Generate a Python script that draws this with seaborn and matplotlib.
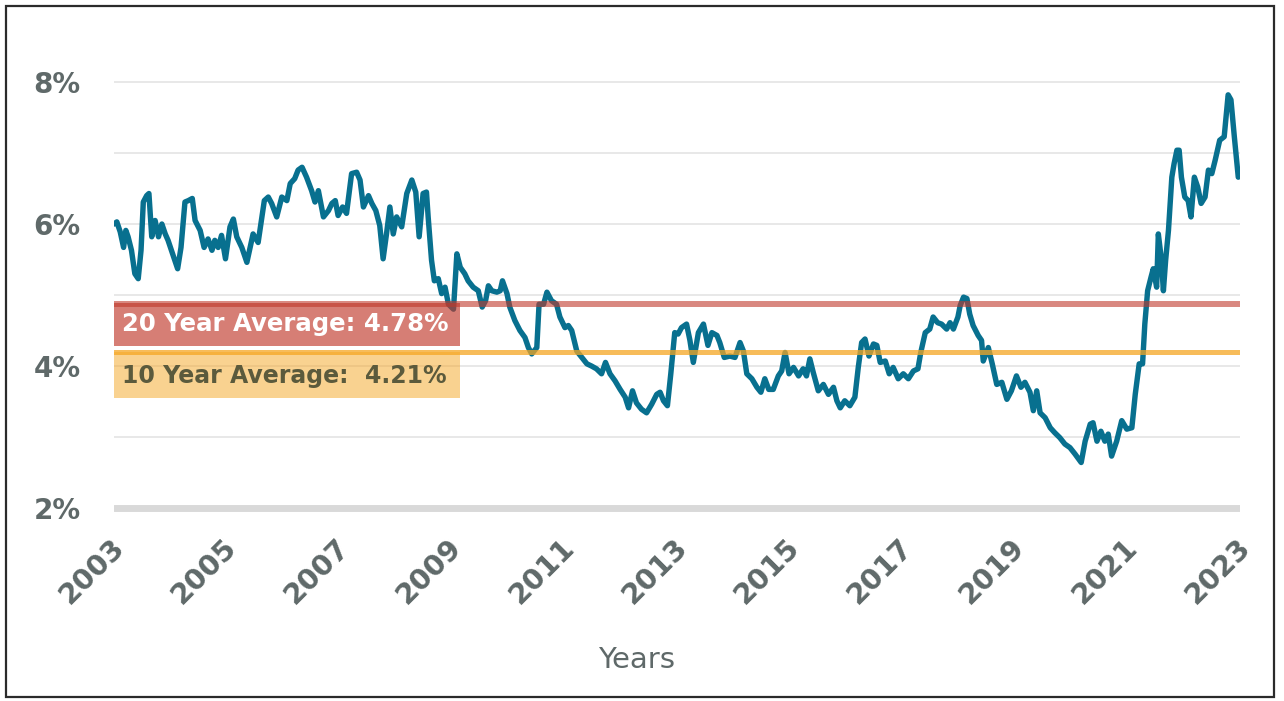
import numpy as np
import pandas as pd
import matplotlib
matplotlib.use("Agg")
import matplotlib.pyplot as plt
import matplotlib.patches as patches
from matplotlib.transforms import ScaledTranslation
import seaborn as sns

# 30 year fixed mortgage rate
years = [
    2003.00, 2003.05, 2003.11, 2003.17, 2003.21, 2003.25, 2003.31, 2003.37, 2003.43, 2003.48,
    2003.52, 2003.58, 2003.62, 2003.67, 2003.73, 2003.79, 2003.85, 2003.91, 2003.96, 2004.02,
    2004.08, 2004.13, 2004.19, 2004.26, 2004.32, 2004.39, 2004.44, 2004.53, 2004.60, 2004.67,
    2004.74, 2004.79, 2004.85, 2004.91, 2004.98, 2005.06, 2005.12, 2005.18, 2005.27, 2005.36,
    2005.47, 2005.56, 2005.67, 2005.74, 2005.80, 2005.89, 2005.98, 2006.07, 2006.13, 2006.21,
    2006.27, 2006.34, 2006.42, 2006.51, 2006.57, 2006.63, 2006.72, 2006.81, 2006.87, 2006.93,
    2006.98, 2007.06, 2007.13, 2007.22, 2007.31, 2007.37, 2007.43, 2007.52, 2007.58, 2007.65,
    2007.72, 2007.78, 2007.84, 2007.90, 2007.96, 2008.02, 2008.11, 2008.20, 2008.29, 2008.36,
    2008.42, 2008.49, 2008.55, 2008.58, 2008.64, 2008.69, 2008.76, 2008.82, 2008.88, 2008.94,
    2009.03, 2009.09, 2009.15, 2009.23, 2009.29, 2009.38, 2009.47, 2009.54, 2009.60, 2009.65,
    2009.71, 2009.80, 2009.86, 2009.90, 2009.98, 2010.03, 2010.12, 2010.21, 2010.30, 2010.36,
    2010.42, 2010.51, 2010.55, 2010.63, 2010.69, 2010.77, 2010.86, 2010.92, 2011.01, 2011.07,
    2011.13, 2011.22, 2011.31, 2011.40, 2011.48, 2011.57, 2011.66, 2011.73, 2011.81, 2011.90,
    2011.99, 2012.08, 2012.14, 2012.21, 2012.28, 2012.37, 2012.46, 2012.55, 2012.64, 2012.70,
    2012.76, 2012.83, 2012.89, 2012.96, 2013.02, 2013.08, 2013.17, 2013.23, 2013.29, 2013.38,
    2013.47, 2013.55, 2013.62, 2013.71, 2013.76, 2013.84, 2013.94, 2014.03, 2014.12, 2014.18,
    2014.24, 2014.33, 2014.42, 2014.49, 2014.56, 2014.63, 2014.71, 2014.80, 2014.86, 2014.92,
    2014.99, 2015.07, 2015.16, 2015.24, 2015.30, 2015.36, 2015.42, 2015.51, 2015.60, 2015.69,
    2015.78, 2015.84, 2015.90, 2015.98, 2016.07, 2016.16, 2016.22, 2016.28, 2016.34, 2016.41,
    2016.49, 2016.55, 2016.61, 2016.70, 2016.77, 2016.84, 2016.93, 2017.02, 2017.11, 2017.20,
    2017.28, 2017.33, 2017.41, 2017.49, 2017.55, 2017.63, 2017.70, 2017.79, 2017.85, 2017.91,
    2017.99, 2018.03, 2018.09, 2018.15, 2018.20, 2018.26, 2018.35, 2018.41, 2018.44, 2018.53,
    2018.60, 2018.68, 2018.77, 2018.86, 2018.94, 2019.03, 2019.11, 2019.18, 2019.27, 2019.33,
    2019.39, 2019.45, 2019.54, 2019.63, 2019.71, 2019.80, 2019.89, 2019.98, 2020.07, 2020.18,
    2020.25, 2020.34, 2020.39, 2020.46, 2020.53, 2020.60, 2020.66, 2020.72, 2020.81, 2020.90,
    2020.99, 2021.08, 2021.14, 2021.21, 2021.27, 2021.31, 2021.36, 2021.42, 2021.46, 2021.52,
    2021.55, 2021.60, 2021.64, 2021.68, 2021.73, 2021.79, 2021.83, 2021.88, 2021.92, 2021.96,
    2022.02, 2022.08, 2022.13, 2022.19, 2022.25, 2022.31, 2022.38, 2022.44, 2022.50, 2022.56,
    2022.64, 2022.72, 2022.79, 2022.84, 2022.90, 2022.97,
]
rates = [
    6.00, 6.03, 5.89, 5.67, 5.91, 5.82, 5.63, 5.30, 5.23, 5.63,
    6.31, 6.40, 6.43, 5.82, 6.05, 5.82, 6.00, 5.86, 5.77, 5.63,
    5.49, 5.37, 5.67, 6.31, 6.33, 6.36, 6.05, 5.91, 5.67, 5.79,
    5.63, 5.77, 5.67, 5.84, 5.51, 5.96, 6.07, 5.82, 5.67, 5.46,
    5.86, 5.74, 6.33, 6.38, 6.29, 6.10, 6.38, 6.33, 6.57, 6.64,
    6.76, 6.80, 6.66, 6.47, 6.31, 6.47, 6.10, 6.19, 6.29, 6.33,
    6.12, 6.24, 6.15, 6.71, 6.73, 6.62, 6.24, 6.40, 6.29, 6.19,
    5.98, 5.51, 5.86, 6.24, 5.86, 6.10, 5.96, 6.43, 6.62, 6.45,
    5.82, 6.43, 6.45, 6.10, 5.49, 5.20, 5.23, 5.02, 5.11, 4.87,
    4.80, 5.58, 5.39, 5.30, 5.20, 5.11, 5.06, 4.83, 4.92, 5.13,
    5.06, 5.04, 5.06, 5.20, 5.02, 4.83, 4.64, 4.50, 4.40, 4.26,
    4.17, 4.26, 4.87, 4.87, 5.04, 4.92, 4.87, 4.69, 4.54, 4.57,
    4.50, 4.21, 4.12, 4.03, 4.00, 3.96, 3.89, 4.05, 3.89, 3.79,
    3.67, 3.56, 3.41, 3.65, 3.48, 3.39, 3.34, 3.46, 3.60, 3.63,
    3.51, 3.44, 3.89, 4.47, 4.45, 4.54, 4.59, 4.36, 4.05, 4.47,
    4.59, 4.29, 4.47, 4.43, 4.33, 4.12, 4.14, 4.12, 4.33, 4.21,
    3.89, 3.82, 3.70, 3.63, 3.82, 3.67, 3.67, 3.86, 3.93, 4.19,
    3.89, 3.98, 3.86, 3.96, 3.86, 4.10, 3.91, 3.65, 3.74, 3.60,
    3.70, 3.51, 3.41, 3.51, 3.44, 3.56, 3.98, 4.33, 4.38, 4.14,
    4.31, 4.29, 4.05, 4.07, 3.89, 3.98, 3.82, 3.89, 3.82, 3.93,
    3.96, 4.19, 4.47, 4.52, 4.69, 4.61, 4.59, 4.52, 4.61, 4.52,
    4.69, 4.85, 4.97, 4.95, 4.73, 4.57, 4.43, 4.36, 4.07, 4.26,
    4.03, 3.74, 3.77, 3.53, 3.65, 3.86, 3.70, 3.77, 3.63, 3.37,
    3.65, 3.34, 3.27, 3.13, 3.06, 2.99, 2.90, 2.85, 2.76, 2.64,
    2.94, 3.18, 3.20, 2.94, 3.08, 2.94, 3.04, 2.73, 2.94, 3.23,
    3.11, 3.13, 3.60, 4.03, 4.03, 4.59, 5.06, 5.25, 5.37, 5.11,
    5.86, 5.53, 5.06, 5.49, 5.91, 6.66, 6.85, 7.04, 7.04, 6.66,
    6.38, 6.33, 6.10, 6.66, 6.52, 6.29, 6.38, 6.76, 6.71, 6.90,
    7.18, 7.23, 7.82, 7.75, 7.23, 6.66,
]

avg_labels = ["20 Year Average: 4.78%", "10 Year Average:  4.21%"]
avg_levels = [4.87, 4.20]   # where the bands sit on the chart
year_ticks = list(range(2003, 2024, 2))
pct_ticks = [2, 4, 6, 8]

df = pd.DataFrame({"Year": years, "Rate": rates})

sns.set_style("white")
plt.rcParams["font.family"] = ["DejaVu Sans"]

fig = plt.figure(figsize=(12.84, 7.01), dpi=100)
ax = fig.add_axes([0.0888, 0.2653, 0.8769, 0.648])

grey_txt = "#5f6969"

# grid
for g in [3, 4, 5, 6, 7, 8]:
    ax.axhline(g, color="#e2e2e2", lw=1.1, zorder=0)
ax.axhline(2, color="#d9d9d9", lw=5, zorder=0)

sns.lineplot(data=df, x="Year", y="Rate", ax=ax, color="#08708f", lw=3.9,
             estimator=None, sort=False, zorder=2)

# label boxes
ax.add_patch(patches.Rectangle((2002.96, 4.285), 6.19, 0.605, facecolor="#c0392b",
                               alpha=0.65, lw=0, zorder=3))
ax.add_patch(patches.Rectangle((2002.96, 3.555), 6.19, 0.635, facecolor="#f5a623",
                               alpha=0.5, lw=0, zorder=3))

# average lines
ax.axhline(avg_levels[0], color="#c0392b", alpha=0.6, lw=4.3, zorder=4)
ax.axhline(avg_levels[1], color="#f5a623", alpha=0.75, lw=3.6, zorder=4)

ax.text(2003.14, 4.585, avg_labels[0], color="white", fontsize=17.6,
        fontweight="bold", va="center", ha="left", zorder=5)
ax.text(2003.14, 3.86, avg_labels[1], color="#5b5a3c", fontsize=17.0,
        fontweight="bold", va="center", ha="left", zorder=5)

ax.set_xlim(2003, 2023)
ax.set_ylim(1.9, 8.3)
ax.set_xticks(year_ticks)
ax.set_xticklabels([str(y) for y in year_ticks], rotation=45, ha="right",
                   va="center", rotation_mode="anchor", fontsize=20.5,
                   fontweight="bold", color=grey_txt)
ax.set_yticks(pct_ticks)
ax.set_yticklabels([f"{p}%" for p in pct_ticks], fontsize=20,
                   fontweight="bold", color=grey_txt)
ax.tick_params(axis="x", length=0, pad=20)
ax.tick_params(axis="y", length=0, pad=24)
for lab in ax.get_xticklabels():
    lab.set_transform(lab.get_transform() + ScaledTranslation(0.06, 0, fig.dpi_scale_trans))

sns.despine(ax=ax, left=True, bottom=True)
ax.set_xlabel("")
ax.set_ylabel("")

fig.text(637 / 1284, 1 - 660 / 701, "Years", fontsize=21, color="#5f6969",
         ha="center", va="center")

# outer frame
fig.patches.append(patches.Rectangle((6 / 1284, 4 / 701), 1268 / 1284, 691 / 701,
                                     transform=fig.transFigure, fill=False,
                                     edgecolor="#2b2b2b", lw=1.6))

fig.savefig("out.png", dpi=100)
